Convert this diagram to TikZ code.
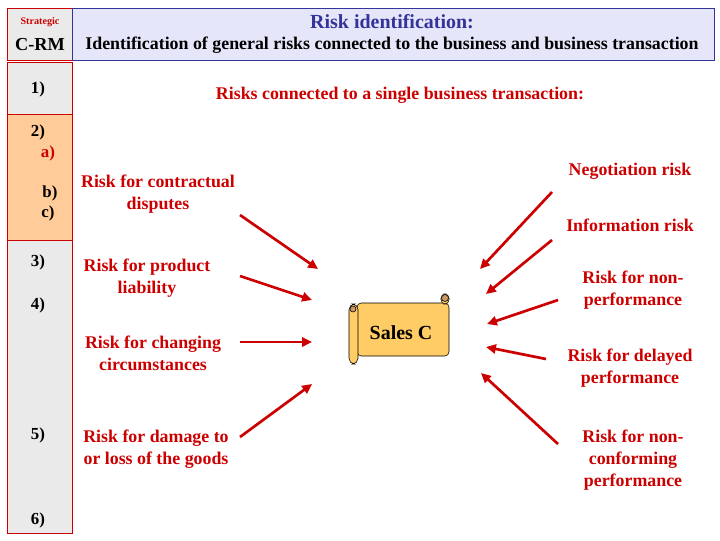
\documentclass[tikz,border=0pt]{standalone}
\usepackage{fontspec}
\setmainfont{Liberation Serif}
\usetikzlibrary{arrows.meta}
\definecolor{riskred}{RGB}{204,0,0}
\definecolor{titleblue}{RGB}{51,51,153}
\definecolor{lavender}{RGB}{230,230,250}
\definecolor{colgray}{RGB}{234,234,234}
\definecolor{peach}{RGB}{255,204,153}
\definecolor{scrollfill}{RGB}{255,204,102}
\definecolor{curlfill}{RGB}{204,153,102}
\begin{document}
\begin{tikzpicture}[x=0.025cm,y=-0.025cm,
	risklabel/.style={font=\fontsize{12.7}{15.6}\selectfont\bfseries,text=riskred,align=center},
	numlabel/.style={font=\fontsize{12}{13}\selectfont\bfseries},
	riskarrow/.style={draw=riskred,line width=1.9pt,-{Triangle[length=7pt,width=6.5pt]}}]
					\useasboundingbox (0,0) rectangle (720,540);
					\draw [riskred,fill=colgray] (7,8) rectangle (72,60);
					\draw [titleblue,fill=lavender] (72,8) rectangle (714,60);
					\draw [riskred,fill=colgray] (7,62) rectangle (72,114);
					\draw [riskred,fill=peach] (7,114) rectangle (72,240);
					\draw [riskred,fill=colgray] (7,240) rectangle (72,533);
					\node [font=\fontsize{7.2}{8}\selectfont\bfseries,text=riskred] (strategic) at (40,22) {Strategic};
					\node [font=\fontsize{13}{15}\selectfont\bfseries] (crm) at (40,45) {C-RM};
					\node [font=\fontsize{14.2}{16}\selectfont\bfseries,text=titleblue] (title) at (392,22) {Risk identification:};
					\node [font=\fontsize{12.7}{14}\selectfont\bfseries] (subtitle) at (392,45) {Identification of general risks connected to the business and business transaction};
					\node [numlabel] (n1) at (38,89) {1)};
					\node [numlabel] (n2) at (38,132) {2)};
					\node [numlabel,text=riskred] (na) at (48,153) {a)};
					\node [numlabel] (nb) at (50,193) {b)};
					\node [numlabel] (nc) at (48,213) {c)};
					\node [numlabel] (n3) at (38,262) {3)};
					\node [numlabel] (n4) at (38,305) {4)};
					\node [numlabel] (n5) at (38,435) {5)};
					\node [numlabel] (n6) at (38,520) {6)};
					\node [risklabel] (single) at (400,95) {Risks connected to a single business transaction:};
					\node [risklabel] (contract) at (158,194) {Risk for contractual\\disputes};
					\node [risklabel] (product) at (147,278) {Risk for product\\liability};
					\node [risklabel] (changing) at (153,353) {Risk for changing\\circumstances};
					\node [risklabel] (damage) at (156,449) {Risk for damage to\\or loss of the goods};
					\node [risklabel] (negotiation) at (630,171) {Negotiation risk};
					\node [risklabel] (information) at (630,225) {Information risk};
					\node [risklabel] (nonperf) at (633,290) {Risk for non-\\performance};
					\node [risklabel] (delayed) at (630,368) {Risk for delayed\\performance};
					\node [risklabel] (nonconf) at (633,460) {Risk for non-\\conforming\\performance};
					\draw [fill=scrollfill,rounded corners=3] (357,303) rectangle (449,356);
					\draw [fill=scrollfill,rounded corners=3] (441,294) rectangle (449,304);
					\draw [fill=curlfill] (445,298) circle [radius=3.5];
					\draw [fill=scrollfill,rounded corners=4] (349,304) rectangle (358,364);
					\draw [fill=curlfill] (353,309) circle [radius=3];
					\node [font=\fontsize{14.2}{16}\selectfont\bfseries] (sales) at (401,333) {Sales C};
					\coordinate (c1) at (240,215);
					\coordinate (s1) at (318,269);
					\coordinate (c2) at (240,276);
					\coordinate (s2) at (312,300);
					\coordinate (c3) at (240,342);
					\coordinate (s3) at (312,342);
					\coordinate (c4) at (240,437);
					\coordinate (s4) at (312,384);
					\coordinate (c5) at (552,192);
					\coordinate (s5) at (480,269);
					\coordinate (c6) at (552,240);
					\coordinate (s6) at (486,294);
					\coordinate (c7) at (558,300);
					\coordinate (s7) at (487,324);
					\coordinate (c8) at (546,359);
					\coordinate (s8) at (486,347);
					\coordinate (c9) at (558,444);
					\coordinate (s9) at (481,373);
					\draw [riskarrow] (c1)--(s1);
					\draw [riskarrow] (c2)--(s2);
					\draw [riskarrow] (c3)--(s3);
					\draw [riskarrow] (c4)--(s4);
					\draw [riskarrow] (c5)--(s5);
					\draw [riskarrow] (c6)--(s6);
					\draw [riskarrow] (c7)--(s7);
					\draw [riskarrow] (c8)--(s8);
					\draw [riskarrow] (c9)--(s9);
				\end{tikzpicture}
\end{document}
